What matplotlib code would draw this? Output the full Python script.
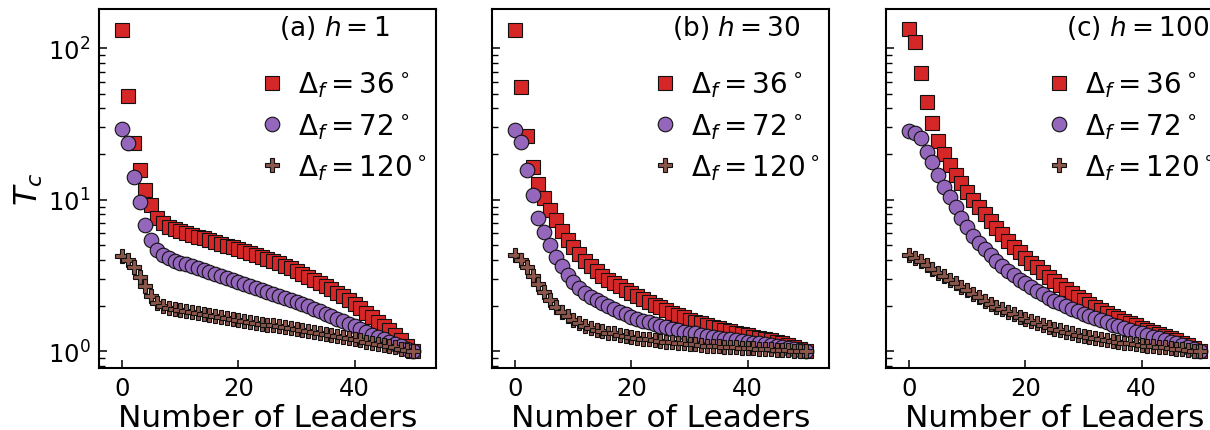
import matplotlib
matplotlib.use("Agg")
import matplotlib.pyplot as plt
import numpy as np

# ---------------- data ----------------
leaders = list(range(0, 51))

# panel (a) h = 1
a_36 = [131, 48, 23.6, 15.7, 11.6, 9.2, 7.6, 7.0, 6.6, 6.4, 6.2, 6.0, 5.85, 5.7, 5.55,
        5.4, 5.25, 5.1, 4.98, 4.85, 4.72, 4.6, 4.47, 4.34, 4.2, 4.07, 3.94, 3.8, 3.66,
        3.52, 3.38, 3.24, 3.1, 2.96, 2.82, 2.68, 2.56, 2.43, 2.3, 2.17, 2.04, 1.92, 1.8,
        1.68, 1.57, 1.47, 1.38, 1.29, 1.19, 1.09, 1.0]
a_72 = [29.2, 23.5, 14.2, 9.6, 6.8, 5.45, 4.65, 4.3, 4.1, 3.95, 3.85, 3.75, 3.65, 3.55,
        3.45, 3.35, 3.25, 3.15, 3.05, 2.95, 2.87, 2.79, 2.71, 2.63, 2.55, 2.47, 2.40,
        2.33, 2.26, 2.19, 2.12, 2.05, 1.98, 1.91, 1.84, 1.77, 1.70, 1.64, 1.58, 1.52,
        1.46, 1.40, 1.34, 1.29, 1.24, 1.20, 1.16, 1.12, 1.08, 1.04, 1.0]
a_120 = [4.25, 4.0, 3.6, 3.1, 2.7, 2.3, 2.08, 1.98, 1.94, 1.91, 1.88, 1.85, 1.82, 1.79,
         1.76, 1.73, 1.71, 1.68, 1.66, 1.63, 1.61, 1.58, 1.56, 1.54, 1.52, 1.50, 1.48,
         1.46, 1.44, 1.42, 1.40, 1.38, 1.36, 1.34, 1.32, 1.30, 1.28, 1.26, 1.24, 1.22,
         1.20, 1.18, 1.16, 1.14, 1.12, 1.10, 1.08, 1.06, 1.04, 1.02, 1.0]

# panel (b) h = 30
b_36 = [131, 55, 26.4, 16.3, 12.7, 10.2, 8.5, 7.3, 6.2, 5.4, 4.85, 4.35, 3.95, 3.65,
        3.38, 3.15, 2.97, 2.82, 2.68, 2.55, 2.43, 2.32, 2.22, 2.12, 2.03, 1.95, 1.87,
        1.80, 1.74, 1.68, 1.62, 1.57, 1.53, 1.49, 1.45, 1.42, 1.39, 1.36, 1.33, 1.30,
        1.28, 1.25, 1.23, 1.21, 1.18, 1.16, 1.13, 1.10, 1.07, 1.04, 1.0]
b_72 = [28.8, 23.9, 15.7, 10.8, 7.6, 6.1, 5.0, 4.2, 3.65, 3.2, 2.87, 2.62, 2.42, 2.28,
        2.17, 2.07, 1.98, 1.90, 1.82, 1.75, 1.69, 1.64, 1.59, 1.55, 1.51, 1.47, 1.44,
        1.41, 1.38, 1.35, 1.33, 1.31, 1.29, 1.27, 1.25, 1.23, 1.21, 1.20, 1.18, 1.17,
        1.15, 1.14, 1.13, 1.11, 1.10, 1.08, 1.07, 1.05, 1.04, 1.02, 1.0]
b_120 = [4.3, 4.0, 3.6, 3.15, 2.78, 2.45, 2.17, 1.97, 1.82, 1.70, 1.60, 1.53, 1.47, 1.43,
         1.39, 1.36, 1.33, 1.31, 1.29, 1.27, 1.25, 1.23, 1.21, 1.20, 1.18, 1.17, 1.16,
         1.15, 1.14, 1.13, 1.12, 1.11, 1.10, 1.09, 1.085, 1.08, 1.07, 1.065, 1.06, 1.055,
         1.05, 1.045, 1.04, 1.035, 1.03, 1.025, 1.02, 1.015, 1.01, 1.005, 1.0]

# panel (c) h = 100
c_36 = [133, 109, 68, 44, 32, 24.4, 19.9, 16.9, 14.6, 12.8, 11.2, 10.0, 8.9, 8.0, 7.2,
        6.5, 5.9, 5.35, 4.9, 4.5, 4.15, 3.85, 3.57, 3.32, 3.10, 2.90, 2.72, 2.56, 2.42,
        2.29, 2.17, 2.06, 1.96, 1.87, 1.79, 1.72, 1.65, 1.59, 1.53, 1.48, 1.43, 1.38,
        1.34, 1.30, 1.26, 1.22, 1.18, 1.14, 1.10, 1.05, 1.0]
c_72 = [28.5, 27.5, 25.4, 20.5, 17.6, 14.5, 12.2, 10.4, 8.9, 7.6, 6.6, 5.8, 5.2, 4.7,
        4.3, 3.95, 3.65, 3.4, 3.17, 2.97, 2.80, 2.64, 2.50, 2.37, 2.26, 2.16, 2.07, 1.99,
        1.91, 1.84, 1.77, 1.71, 1.65, 1.60, 1.55, 1.50, 1.46, 1.42, 1.38, 1.34, 1.31,
        1.28, 1.25, 1.22, 1.19, 1.16, 1.13, 1.10, 1.07, 1.04, 1.0]
c_120 = [4.3, 4.15, 3.95, 3.72, 3.5, 3.3, 3.12, 2.95, 2.8, 2.66, 2.52, 2.39, 2.27, 2.16,
         2.06, 1.97, 1.89, 1.82, 1.75, 1.69, 1.63, 1.58, 1.53, 1.49, 1.45, 1.41, 1.38,
         1.35, 1.32, 1.29, 1.27, 1.25, 1.23, 1.21, 1.19, 1.17, 1.16, 1.14, 1.13, 1.11,
         1.10, 1.09, 1.08, 1.07, 1.06, 1.05, 1.04, 1.03, 1.02, 1.01, 1.0]

panel_titles = ["(a) $h = 1$", "(b) $h = 30$", "(c) $h = 100$"]
series_labels = [r"$\Delta_f = 36^\circ$", r"$\Delta_f = 72^\circ$",
                 r"$\Delta_f = 120^\circ$"]
panels = [[a_36, a_72, a_120], [b_36, b_72, b_120], [c_36, c_72, c_120]]
xticks = [0, 20, 40]

# ---------------- style ----------------
colors = ["#d62728", "#9467bd", "#8c564b"]
markers = ["s", "o", "P"]

fig = plt.figure(figsize=(12.10, 4.31), dpi=100)
lefts = [0.0818, 0.4066, 0.7322]
W, B, H = 0.2785, 0.1439, 0.833

axes = []
for i, left in enumerate(lefts):
    ax = fig.add_axes([left, B, W, H], sharey=axes[0] if axes else None)
    axes.append(ax)
    for ys, c, m, lab in zip(panels[i], colors, markers, series_labels):
        ax.plot(leaders, ys, linestyle="none", marker=m, markersize=10.5,
                markerfacecolor=c, markeredgecolor="#111111", markeredgewidth=0.8,
                label=lab)
    ax.set_yscale("log")
    ax.set_xlim(-4, 54)
    ax.set_ylim(0.776, 181)
    ax.set_xticks(xticks)
    ax.tick_params(axis="both", which="major", direction="in", length=5.5, width=1.1,
                   labelsize=17.5, pad=6)
    ax.tick_params(axis="both", which="minor", direction="in", length=4.3, width=1.0)
    for sp in ax.spines.values():
        sp.set_linewidth(1.5)
    ax.set_xlabel("Number of Leaders", fontsize=22.5, labelpad=2)
    ax.text(0.535, 0.95, panel_titles[i], transform=ax.transAxes, fontsize=19,
            ha="left", va="center")
    ax.legend(loc="center left", bbox_to_anchor=(0.475, 0.675), frameon=False,
              fontsize=20, handlelength=0.9, handletextpad=0.5, borderpad=0,
              borderaxespad=0, labelspacing=0.42, numpoints=1)
    if i > 0:
        ax.tick_params(axis="y", which="both", labelleft=False)

axes[0].set_ylabel("$T_c$", fontsize=23, labelpad=2)

fig.savefig("out.png", dpi=100)
